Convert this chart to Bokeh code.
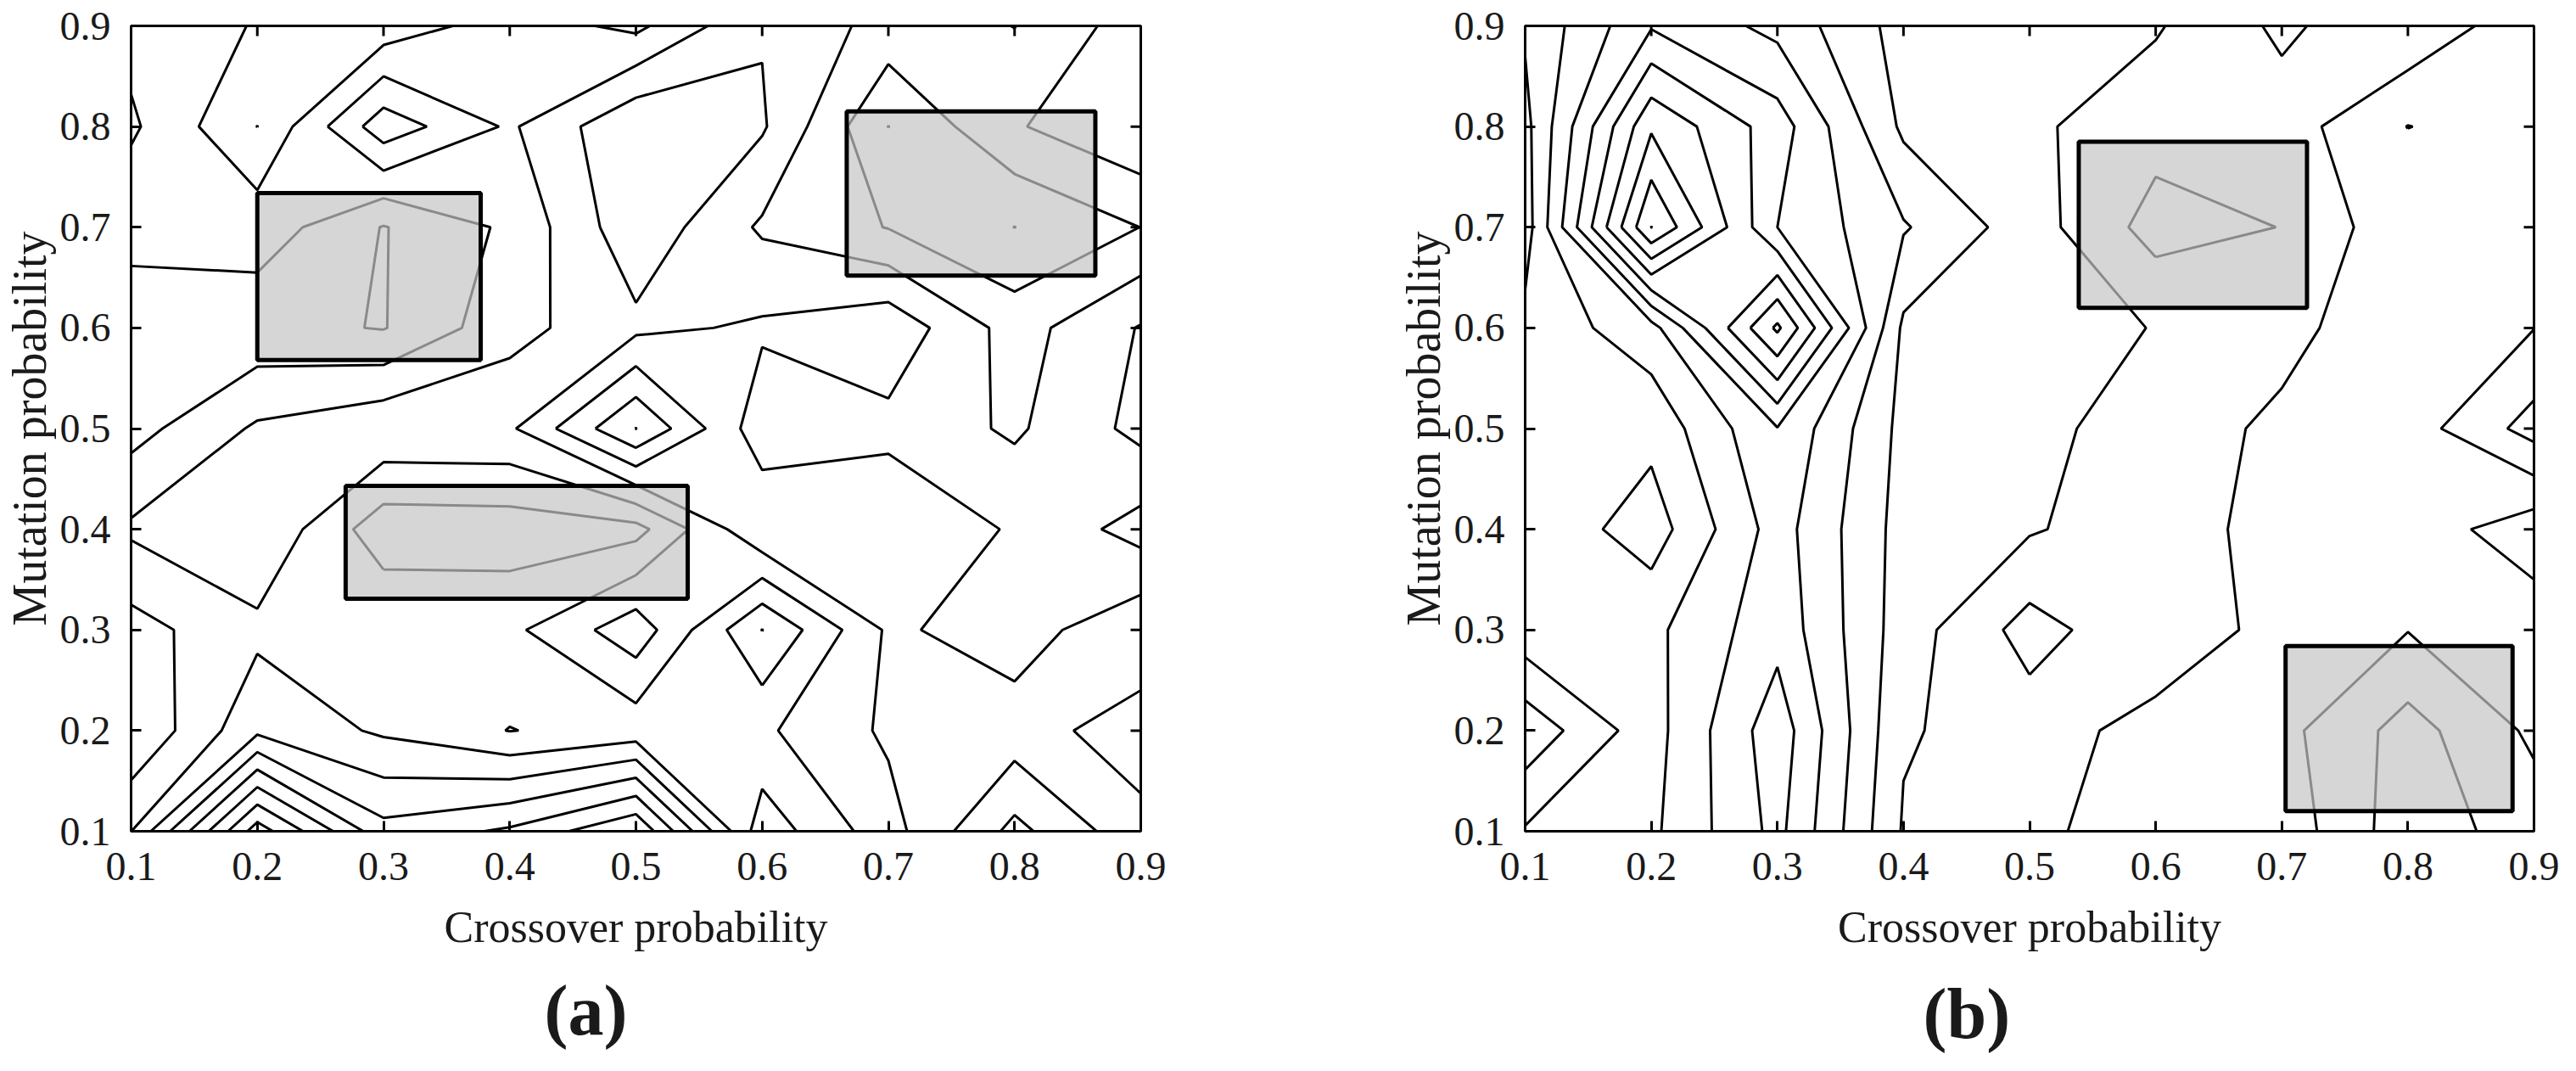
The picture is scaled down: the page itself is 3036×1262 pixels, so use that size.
import numpy as np
from bokeh.plotting import figure
from bokeh.layouts import row
from bokeh.models import Range1d, FixedTicker, Title
from bokeh.embed import file_html
from bokeh.resources import INLINE

crossover = [0.1, 0.2, 0.3, 0.4, 0.5, 0.6, 0.7, 0.8, 0.9]
mutation = [0.1, 0.2, 0.3, 0.4, 0.5, 0.6, 0.7, 0.8, 0.9]
tick_values = [0.1, 0.2, 0.3, 0.4, 0.5, 0.6, 0.7, 0.8, 0.9]

# panel (a): one list per mutation probability (rows), values along crossover probability
a_m01 = [1.98, 8.52, 4.33, 5.17, 6.94, 0.40, 2.60, 5.30, 3.30]
a_m02 = [0.05, 2.77, 1.84, 0.97, 1.40, 1.83, 3.17, 3.44, 2.50]
a_m03 = [0.61, 1.76, 1.90, 1.76, 3.61, -0.02, 3.16, 2.54, 3.75]
a_m04 = [2.17, 2.90, 0.40, 0.46, 0.65, 3.90, 3.90, 2.88, 1.60]
a_m05 = [0.62, 2.15, 2.80, 2.84, 6.02, 2.37, 2.70, 1.84, 3.30]
a_m06 = [0.60, 0.28, -0.05, 1.64, 2.76, 3.15, 3.70, 1.57, 3.07]
a_m07 = [1.25, 1.59, -0.05, 1.19, 3.72, 1.85, 0.96, -0.01, 1.01]
a_m08 = [2.17, -0.01, 3.60, 1.85, 3.90, 3.12, -0.01, 1.90, 2.90]
a_m09 = [1.64, 0.94, 0.39, 1.50, 0.76, 2.93, 1.62, 0.98, 2.53]
a_levels = [0, 1, 2, 3, 4, 5, 6, 7, 8]

# panel (b)
b_m01 = [3.10, 3.80, 6.30, 1.90, 1.10, 0.77, 0.62, -1.60, -0.50]
b_m02 = [1.30, 3.60, 6.60, 2.10, 1.50, 0.60, 0.30, -1.40, 0.20]
b_m03 = [3.63, 3.75, 5.65, 2.50, 0.60, 1.78, 0.60, 0.03, 0.40]
b_m04 = [3.80, 2.50, 5.44, 2.60, 2.10, 1.40, 0.70, 0.40, 1.60]
b_m05 = [3.50, 3.30, 5.95, 2.70, 2.30, 1.50, 0.80, 0.50, -1.40]
b_m06 = [3.30, 4.60, 10.20, 2.80, 2.60, 1.95, 1.30, 0.30, 0.02]
b_m07 = [2.50, 11.02, 6.00, 4.10, 2.46, 0.60, 1.02, 0.985, 0.60]
b_m08 = [2.70, 8.85, 6.50, 2.80, 2.17, 1.40, 1.47, -0.02, 0.50]
b_m09 = [3.13, 5.90, 4.70, 2.60, 2.60, 2.10, 0.80, 1.80, 0.30]
b_levels = [-1, 0, 1, 2, 3, 4, 5, 6, 7, 8, 9, 10, 11]

# highlighted (grey) regions
a_box_left = [0.200, 0.270, 0.667]
a_box_right = [0.377, 0.541, 0.864]
a_box_bottom = [0.568, 0.331, 0.652]
a_box_top = [0.734, 0.443, 0.815]
b_box_left = [0.539, 0.703]
b_box_right = [0.720, 0.883]
b_box_bottom = [0.620, 0.120]
b_box_top = [0.785, 0.284]

FONT = "Liberation Serif"
INK = "#1a1a1a"


def make_panel(rows, levels, boxes, fw, fh, bl, br, bt, bb, tag, tag_offset, tag_standoff):
    z = np.array(rows, dtype=float)
    p = figure(frame_width=fw, frame_height=fh, title=None,
               x_range=Range1d(0.1, 0.9), y_range=Range1d(0.1, 0.9),
               output_backend="svg", toolbar_location=None,
               min_border_left=bl, min_border_right=br,
               min_border_top=bt, min_border_bottom=bb)
    p.grid.visible = False
    p.background_fill_color = "white"
    p.border_fill_color = "white"
    p.outline_line_color = "black"
    p.outline_line_width = 3
    p.outline_line_alpha = 1.0

    p.contour(crossover, mutation, z, levels, line_color="black", line_width=3)

    l, r, b, t = boxes
    p.quad(left=l, right=r, bottom=b, top=t, fill_color="#c4c4c4", fill_alpha=0.7,
           line_color="black", line_width=5)

    # inward ticks on the top and right frame edges
    tick_len_y = 12 / fh * 0.8
    tick_len_x = 12 / fw * 0.8
    n = len(tick_values)
    p.segment(x0=tick_values, y0=[0.9] * n, x1=tick_values, y1=[0.9 - tick_len_y] * n,
              line_color="black", line_width=3)
    p.segment(x0=[0.9] * n, y0=tick_values, x1=[0.9 - tick_len_x] * n, y1=tick_values,
              line_color="black", line_width=3)

    for ax in (p.xaxis[0], p.yaxis[0]):
        ax.ticker = FixedTicker(ticks=tick_values)
        ax.major_tick_in = 12
        ax.major_tick_out = 0
        ax.minor_tick_in = 0
        ax.minor_tick_out = 0
        ax.axis_line_color = "black"
        ax.axis_line_width = 3
        ax.major_tick_line_width = 3
        ax.major_label_text_font = FONT
        ax.major_label_text_font_size = "48px"
        ax.major_label_text_color = INK
        ax.axis_label_text_font = FONT
        ax.axis_label_text_font_style = "normal"
        ax.axis_label_text_color = INK
    p.xaxis[0].axis_label = "Crossover probability"
    p.yaxis[0].axis_label = "Mutation probability"
    p.xaxis[0].axis_label_text_font_size = "52px"
    p.yaxis[0].axis_label_text_font_size = "56px"
    p.xaxis[0].major_label_standoff = 25
    p.yaxis[0].major_label_standoff = 24
    p.xaxis[0].axis_label_standoff = 24
    p.yaxis[0].axis_label_standoff = 2

    p.add_layout(Title(text=tag, align="left", offset=tag_offset, standoff=tag_standoff,
                       text_font=FONT, text_font_size="84px", text_font_style="bold",
                       text_color=INK), "below")
    return p


pa = make_panel([a_m01, a_m02, a_m03, a_m04, a_m05, a_m06, a_m07, a_m08, a_m09],
                a_levels, (a_box_left, a_box_right, a_box_bottom, a_box_top),
                1190, 949, 153, 299, 30, 267, "(a)", 487, 36)
pb = make_panel([b_m01, b_m02, b_m03, b_m04, b_m05, b_m06, b_m07, b_m08, b_m09],
                b_levels, (b_box_left, b_box_right, b_box_bottom, b_box_top),
                1189, 949, 148, 41, 21, 276, "(b)", 469, 44)

layout = row(pa, pb)
open("out.html", "w").write(file_html(layout, INLINE))
